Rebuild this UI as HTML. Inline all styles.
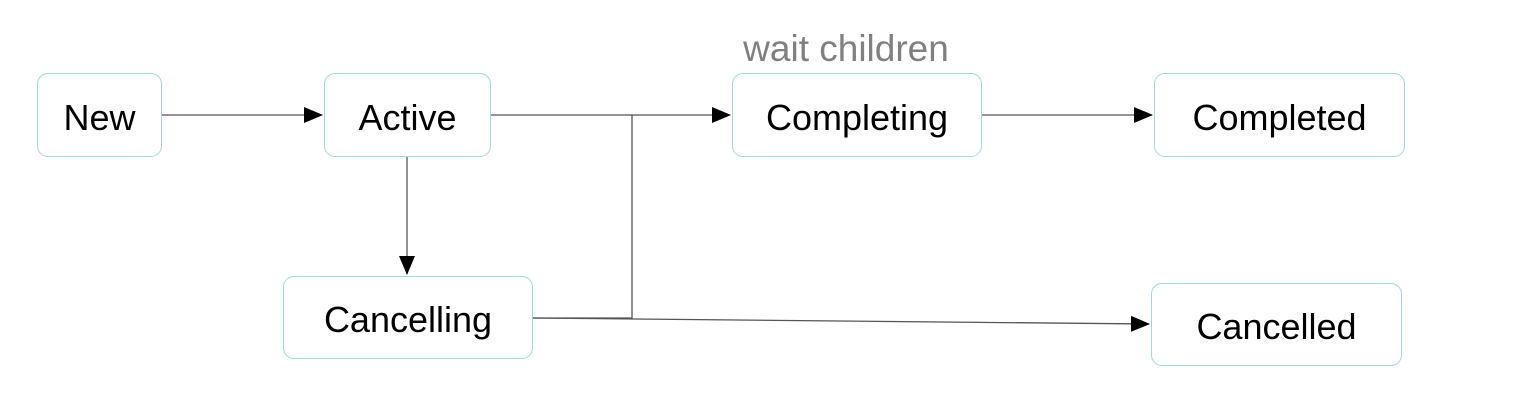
<!DOCTYPE html>
<html><head><style>
body{margin:0;background:#fff;width:1518px;height:410px;overflow:hidden;font-family:"Liberation Sans",sans-serif}
.b{position:absolute;border:1px solid #9fd9df;border-radius:11px;box-sizing:border-box;display:flex;align-items:center;justify-content:center;font-size:36px;color:#000;background:#fff;padding-top:5px}
</style></head><body>
<svg width="1518" height="410" style="position:absolute;left:0;top:0">
<defs><marker id="a" markerWidth="20" markerHeight="16" refX="18" refY="8" orient="auto" markerUnits="userSpaceOnUse"><path d="M0,0L19,8L0,16Z" fill="#000"/></marker></defs>
<g stroke="#555" stroke-width="1.3" fill="none">
<line x1="162" y1="115" x2="322" y2="115" marker-end="url(#a)"/>
<line x1="491" y1="115" x2="632" y2="115"/>
<polyline points="533,318 632,318 632,115 730,115" marker-end="url(#a)"/>
<line x1="407" y1="157" x2="407" y2="274" marker-end="url(#a)"/>
<line x1="982" y1="115" x2="1152" y2="115" marker-end="url(#a)"/>
<line x1="533" y1="318" x2="1149" y2="324" marker-end="url(#a)"/>
</g>
<text x="846" y="61" font-size="37" fill="#808080" text-anchor="middle" font-family="Liberation Sans,sans-serif">wait children</text>
</svg>
<div class="b" style="left:37px;top:73px;width:125px;height:84px">New</div>
<div class="b" style="left:324px;top:73px;width:167px;height:84px">Active</div>
<div class="b" style="left:732px;top:73px;width:250px;height:84px">Completing</div>
<div class="b" style="left:1154px;top:73px;width:251px;height:84px">Completed</div>
<div class="b" style="left:283px;top:276px;width:250px;height:83px">Cancelling</div>
<div class="b" style="left:1151px;top:283px;width:251px;height:83px">Cancelled</div>
</body></html>
